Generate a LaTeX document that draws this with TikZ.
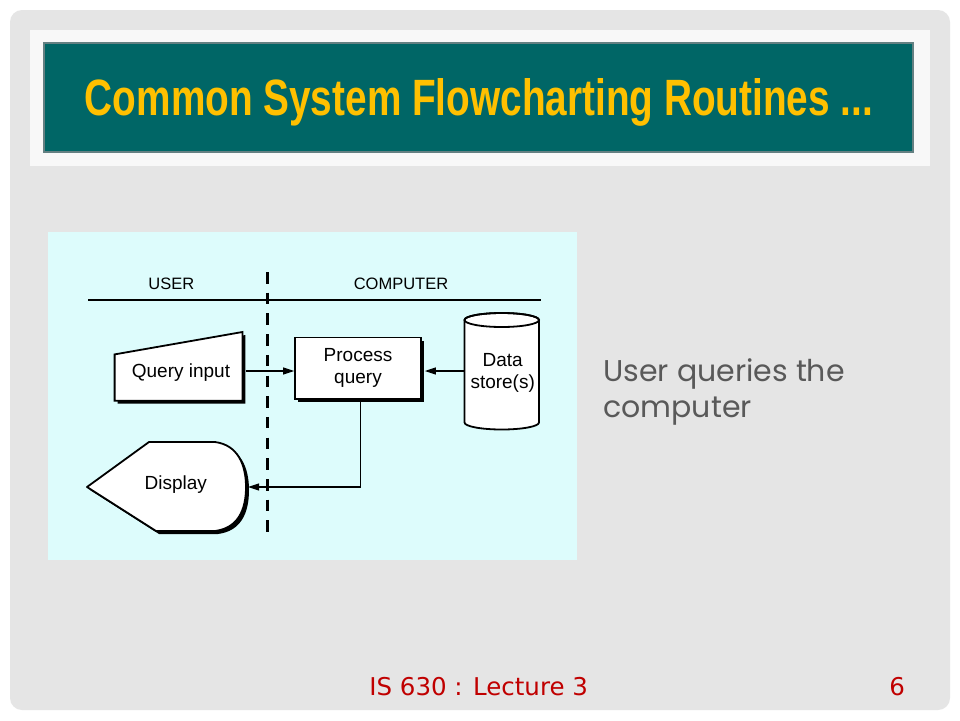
\documentclass[tikz,border=0pt]{standalone}
\usepackage{fontspec}
\usepackage{graphicx}
\setmainfont{Liberation Sans}
\newfontfamily\slidefont{Poppins}
\newfontfamily\footfont{DejaVu Sans}
\usetikzlibrary{arrows.meta,positioning,calc}

\definecolor{slidegray}{RGB}{229,229,229}
\definecolor{bandwhite}{RGB}{248,248,248}
\definecolor{titleteal}{RGB}{0,102,102}
\definecolor{titleedge}{RGB}{100,128,130}
\definecolor{titleyellow}{RGB}{255,192,0}
\definecolor{panelcyan}{RGB}{221,252,252}
\definecolor{bodygray}{RGB}{89,89,89}
\definecolor{footred}{RGB}{192,0,0}

\tikzset{every picture/.style={line width=0.75pt},
  flowtext/.style={font=\fontsize{19}{21}\selectfont, align=center, inner sep=0.75pt},
  lanetext/.style={font=\fontsize{16.5}{18}\selectfont, inner sep=0.75pt},
  flowshape/.style={draw=black, fill=white, line width=1.8},
  flowarrow/.style={line width=1.1, -{Triangle[length=11pt,width=7pt]}}}

\begin{document}
\begin{tikzpicture}[x=1pt,y=1pt,yscale=-1,xscale=1]
\useasboundingbox (0,0) rectangle (960,720);

%Slide background
\fill[white] (0,0) rectangle (960,720);
\fill[slidegray, rounded corners=12] (10,10) rectangle (950,710);
%Title band
\fill[bandwhite] (30,30) rectangle (930,166);
\draw[titleedge, fill=titleteal, line width=1.5] (44,43) rectangle (913,152);
\node[anchor=base, inner sep=0, text=titleyellow] (title) at (479,115)
  {\resizebox{788pt}{37pt}{\bfseries Common System Flowcharting Routines ...}};

%Diagram panel
\fill[panelcyan] (48,232) rectangle (577,560);

%Lanes
\draw[line width=2] (88,300) -- (541,300);
\draw[line width=3, dash pattern=on 11.5pt off 9.2pt] (267,272) -- (267,533);
\node[lanetext] (user) at (171.4,284) {USER};
\node[lanetext] (computer) at (401,284) {COMPUTER};

%Shape: Manual input
\fill[black, shift={(3,3)}] (114.6,354.4) -- (242.4,332) -- (242.4,400.7) -- (114.6,400.7) -- cycle;
\draw[flowshape] (114.6,354.4) -- (242.4,332) -- (242.4,400.7) -- (114.6,400.7) -- cycle;
\node[flowtext] (qin) at (181,373) {Query input};
\coordinate (qin-e) at (245.5,371);

%Shape: Process
\fill[black] (298,340.5) rectangle (424,402);
\node[flowshape, flowtext, minimum width=126, minimum height=61.5] (proc) at (358,368.25) {Process\\[1pt]query};

%Shape: Data store
\draw[flowshape] (464.5,320) -- (464.5,422.5) arc[start angle=180, end angle=0, x radius=37.25, y radius=7]
  -- (539,320) arc[start angle=0, end angle=-180, x radius=37.25, y radius=7] -- cycle;
\draw[line width=1.8] (501.75,320) ellipse[x radius=37.25, y radius=7];
\node[flowtext] (ds) at (502.7,373) {Data\\[1pt]store(s)};
\coordinate (ds-w) at (464.5,371);

%Shape: Display
\fill[black, shift={(3,3)}] (87,487) -- (149,442) -- (215,442) .. controls (238,445) and (246,465) .. (246,487)
  .. controls (246,510) and (238,528) .. (215,531) -- (156,531) -- cycle;
\draw[flowshape, line join=round] (87,487) -- (149,442) -- (215,442) .. controls (238,445) and (246,465) .. (246,487)
  .. controls (246,510) and (238,528) .. (215,531) -- (156,531) -- cycle;
\node[flowtext] (disp) at (175.8,485) {Display};
\coordinate (disp-e) at (248,487);

%Connectors
\draw[flowarrow] (qin-e) -- (qin-e -| proc.west);
\draw[flowarrow] (ds-w) -- ($(ds-w -| proc.east)+(3,0)$);
\draw[flowarrow] ([xshift=2.7pt]proc.south) |- (disp-e);

%Body text
\node[anchor=base west, align=left, inner sep=0, text=bodygray,
  font=\slidefont\fontsize{30}{36}\selectfont] (body) at (603,417) {User queries the\\computer};

%Footer
\node[anchor=base west, inner sep=0, text=footred, font=\footfont\fontsize{24.5}{28}\selectfont]
  (foot) at (369,695) {IS 630 : Lecture 3};
\node[anchor=base west, inner sep=0, text=footred, font=\footfont\fontsize{24.5}{28}\selectfont]
  (page) at (889,695) {6};
\end{tikzpicture}
\end{document}
